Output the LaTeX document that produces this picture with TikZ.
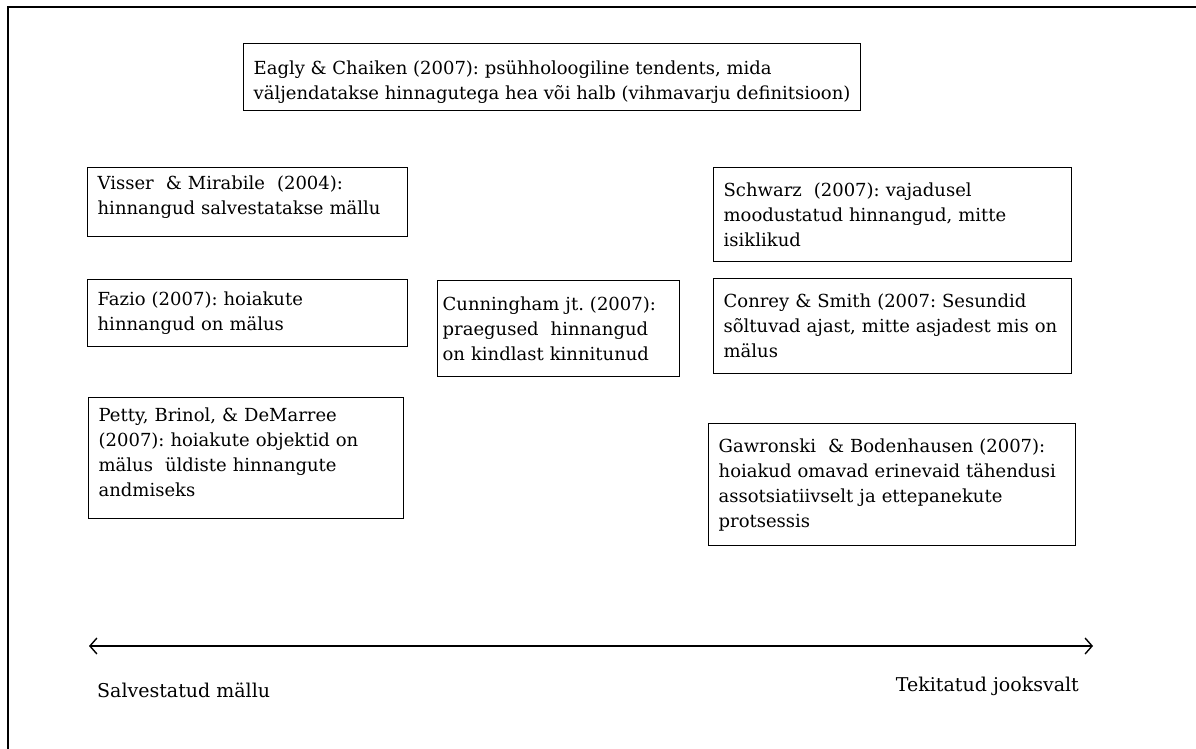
\documentclass[tikz,border=0pt]{standalone}
\usepackage{fontspec}
\setmainfont{DejaVu Serif}
\usetikzlibrary{arrows.meta}
\tikzset{
  box/.style={draw, line width=1.3pt, anchor=north west, align=left,
    inner xsep=10pt, inner ysep=0pt, font=\fontsize{18}{25}\selectfont},
  axis/.style={line width=1.4pt, {Straight Barb[length=7pt,width=16pt,line width=1.4pt]}-{Straight Barb[length=7pt,width=16pt,line width=1.4pt]}},
  lbl/.style={font=\fontsize{19}{22}\selectfont, inner sep=0pt}
}
\frenchspacing
\begin{document}
\begin{tikzpicture}[x=1pt,y=-1pt]
\useasboundingbox (0,0) rectangle (1196,749);
\draw[line width=1.5pt] (8,749) -- (8,7) -- (1196,7);

\node[box, minimum height=67pt] (eagly) at (243,43)
  {\rule{0pt}{23pt}Eagly \& Chaiken (2007): psühholoogiline tendents, mida\\
   väljendatakse hinnagutega hea või halb (vihmavarju definitsioon)};

\node[box, text width=300pt, minimum height=69pt] (visser) at (87,167)
  {\mbox{Visser\ \ \& Mirabile\ \ (2004):}\\ \mbox{hinnangud salvestatakse mällu}\rule[-14pt]{0pt}{0pt}};

\node[box, text width=300pt, minimum height=67pt] (fazio) at (87,279)
  {\mbox{Fazio (2007): hoiakute}\\ \mbox{hinnangud on mälus}};

\node[box, text width=295pt, minimum height=121pt] (petty) at (88,397)
  {\mbox{Petty, Brinol, \& DeMarree}\\ \mbox{(2007): hoiakute objektid on}\\
   \mbox{mälus\ \ üldiste hinnangute}\\ \mbox{andmiseks}\rule[-12pt]{0pt}{0pt}};

\node[box, inner xsep=5pt, text width=232pt, minimum height=96pt] (cunningham) at (437,280)
  {\mbox{Cunningham jt. (2007):}\\ \mbox{praegused\ \ hinnangud}\\ \mbox{on kindlast kinnitunud}};

\node[box, text width=338pt, minimum height=94pt] (schwarz) at (713,167)
  {\mbox{Schwarz\ \ (2007): vajadusel}\\ \mbox{moodustatud hinnangud, mitte}\\ \mbox{isiklikud}};

\node[box, text width=338pt, minimum height=95pt] (conrey) at (713,278)
  {\mbox{Conrey \& Smith (2007: Sesundid}\\ \mbox{sõltuvad ajast, mitte asjadest mis on}\\ \mbox{mälus}};

\node[box, text width=347pt, minimum height=122pt] (gawronski) at (708,423)
  {\mbox{Gawronski\ \ \& Bodenhausen (2007):}\\ \mbox{hoiakud omavad erinevaid tähendusi}\\
   \mbox{assotsiatiivselt ja ettepanekute}\\ \mbox{protsessis}};

\coordinate (aL) at (89,646);
\coordinate (aR) at (1093,646);
\draw[axis] (aL) -- (aR);

\node[lbl, anchor=west] (lleft) at (97,690) {Salvestatud mällu};
\node[lbl, anchor=east] (lright) at (1079,686) {Tekitatud jooksvalt};
\end{tikzpicture}
\end{document}
